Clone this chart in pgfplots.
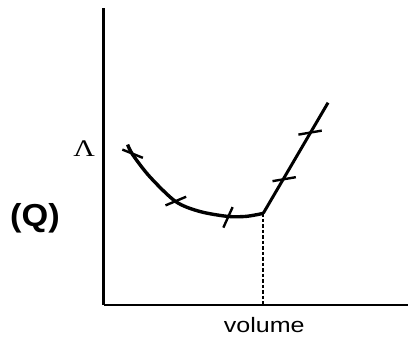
\documentclass[border=0pt]{standalone}
\usepackage{pgfplots}
\pgfplotsset{compat=1.18}
\usepackage{graphicx}
\usepackage{fontspec}
\setmainfont{Liberation Sans}
\newfontfamily\seriffont{Liberation Serif}
\begin{document}
\begin{tikzpicture}
\begin{axis}[
  x=1bp, y=1bp,
  xmin=104, xmax=409, ymin=31, ymax=329,
  axis x line=bottom, axis y line=left,
  axis line style={-, line width=2.4bp, black},
  xtick=\empty, ytick=\empty,
  clip=false,
]
% invisible frame giving the picture the reference's size
\path (axis cs:0,0) rectangle (axis cs:409,337);
% curve
\addplot[line width=3.4bp, black, smooth, tension=0.5] coordinates {
  (128,192) (133,182) (150,160) (176,135) (200,125) (228,120) (247,120) (264,123)
};
\addplot[line width=3bp, black] coordinates {(264,123) (329,234)};
% dashed drop line
\addplot[line width=2.4bp, black, dash pattern=on 3.5bp off 2bp] coordinates {(264,123) (264,31)};
% tick marks on curve
\addplot[line width=2.4bp, black] coordinates {(122.7,187) (143.3,178.7)};
\addplot[line width=2.4bp, black] coordinates {(166,131) (186.7,139.7)};
\addplot[line width=2.4bp, black] coordinates {(224,108.7) (233.3,129.3)};
\addplot[line width=2.4bp, black] coordinates {(273.3,155.3) (296.7,159.3)};
\addplot[line width=2.4bp, black] coordinates {(299.3,202) (322.7,206)};
% labels
\node[inner sep=0pt] at (axis cs:84.5,187.5) {\scalebox{1.25}[1]{\seriffont\fontsize{24}{26}\selectfont Λ}};
\node[font=\bfseries\fontsize{32}{36}\selectfont] at (axis cs:35,118) {\scalebox{1.08}[1]{(Q)}};
\node[font=\fontsize{21}{24}\selectfont, anchor=base] at (axis cs:265,4) {\scalebox{1.2}[1]{volume}};
\end{axis}
\end{tikzpicture}
\end{document}
